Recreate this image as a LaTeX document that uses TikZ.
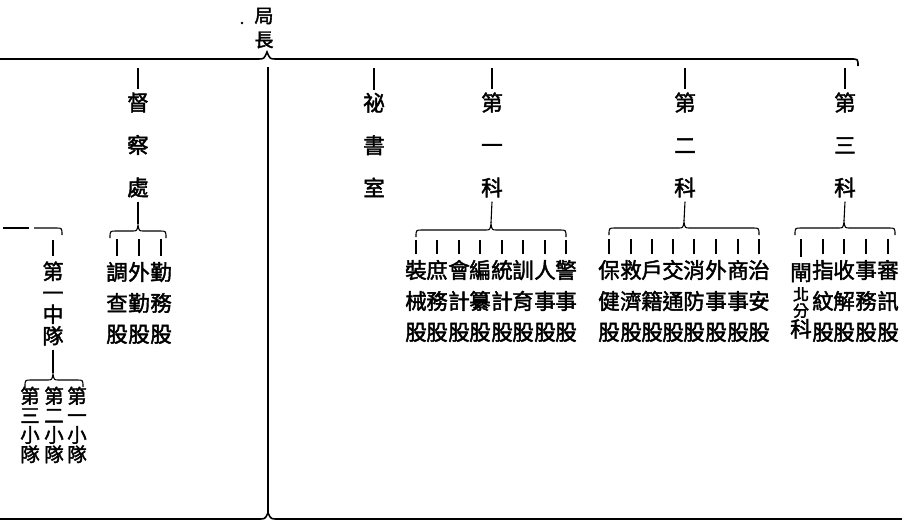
\documentclass[tikz,border=0pt]{standalone}
\usepackage{fontspec}
\newfontfamily\cjk[FakeBold=2]{Noto Sans CJK TC}
\tikzset{
  ln/.style={line width=1.1pt},
  mainln/.style={line width=1.6pt},
  headcol/.style={font=\cjk\fontsize{19}{24}\selectfont, align=center, inner sep=0pt},
  topcol/.style={font=\cjk\fontsize{21.5}{42.5}\selectfont, align=center, inner sep=0pt},
  subcol/.style={font=\cjk\fontsize{21.5}{31}\selectfont, align=center, inner sep=0pt},
  midcol/.style={font=\cjk\fontsize{21}{21.5}\selectfont, align=center, inner sep=0pt},
  smallcol/.style={font=\cjk\fontsize{19.5}{19.5}\selectfont, align=center, inner sep=0pt},
}
% x1, x2, peak x, y
\newcommand\orgbrace[4]{%
  \draw[ln] (#1,#4+7) .. controls (#1,#4) .. (#1+6,#4) -- (#3-6,#4)
    .. controls (#3-1,#4) .. (#3,#4-6) .. controls (#3+1,#4) .. (#3+6,#4)
    -- (#2-6,#4) .. controls (#2,#4) .. (#2,#4+7);}
\begin{document}
\begin{tikzpicture}[x=1pt,y=-1pt]
\fill[white] (0,0) rectangle (902,525);
\useasboundingbox (0,0) rectangle (902,525);

% head
\node[headcol] (hd) at (264,28) {局\\長};
\fill (242,23) circle (1.3pt);

% top line with peak
\coordinate (tl) at (0,59);
\coordinate (tr) at (858,66);
\draw[mainln] (tl) -- (258,59) .. controls (264,59) .. (267,52)
  .. controls (270,59) .. (276,59) -- (851,59) .. controls (858,59) .. (tr);

% main vertical and bottom line
\coordinate (vt) at (268,67);
\coordinate (vb) at (268,513);
\draw[mainln] (vt) -- (vb);
\coordinate (bl) at (0,519);
\coordinate (br) at (902,519);
\draw[mainln] (bl) -- (259,519) .. controls (265,519) .. (vb)
  .. controls (271,519) .. (277,519) -- (br);

% top-level columns
\node[topcol] (dc) at (138,145) {督\\察\\處};
\node[topcol] (ms) at (374,145) {祕\\書\\室};
\node[topcol] (k1) at (492,145) {第\\一\\科};
\node[topcol] (k2) at (685,145) {第\\二\\科};
\node[topcol] (k3) at (845,145) {第\\三\\科};
\foreach \n in {dc,ms,k1,k2,k3}{
  \draw[ln] ([yshift=-9pt]\n.north |- tl) -- ([yshift=3pt]\n.north);
}

% ---- 督察處 branch
\draw[ln] ([yshift=-4pt]dc.south) -- (138,224);
\orgbrace{110}{166}{138}{231}
\foreach \n/\x/\t in {dca/117/{調\\查\\股},dcb/139/{外\\勤\\股},dcc/161/{勤\\務\\股}}{
  \node[subcol] (\n) at (\x,303) {\t};
  \draw[ln] (\x,239) -- ([yshift=6pt]\n.north);
}

% ---- 第一中隊
\node[midcol] (zd) at (53,303.5) {第\\一\\中\\隊};
\coordinate (zl) at (3,228);
\draw[ln] (zl) -- (29,228);
\draw[ln] (34,228) -- (56,228) .. controls (62,228) .. (62,235);
\draw[ln] (53,240) -- ([yshift=5pt]zd.north);
\draw[ln] ([yshift=-4pt]zd.south) -- (53,373);
\orgbrace{25}{83}{53}{380}
\node[smallcol] (x3) at (30,425) {第\\三\\小\\隊};
\node[smallcol] (x2) at (54,425) {第\\二\\小\\隊};
\node[smallcol] (x1) at (77,425) {第\\一\\小\\隊};

% ---- 第一科 branch
\draw[ln] ([yshift=-4pt]k1.south) -- (491,223);
\orgbrace{416}{566}{491}{230}
\foreach \n/\x/\t in {
  k1a/416/{裝\\械\\股},k1b/437/{庶\\務\\股},k1c/459/{會\\計\\股},k1d/480/{編\\纂\\股},
  k1e/502/{統\\計\\股},k1f/523/{訓\\育\\股},k1g/545/{人\\事\\股},k1h/566/{警\\事\\股}}{
  \node[subcol] (\n) at (\x,301) {\t};
  \draw[ln] (\x,240) -- ([yshift=6pt]\n.north);
}

% ---- 第二科 branch
\draw[ln] ([yshift=-4pt]k2.south) -- (684,221);
\orgbrace{609}{759}{684}{228}
\foreach \n/\x/\t in {
  k2a/609/{保\\健\\股},k2b/631/{救\\濟\\股},k2c/652/{戶\\籍\\股},k2d/673/{交\\通\\股},
  k2e/694/{消\\防\\股},k2f/716/{外\\事\\股},k2g/738/{商\\事\\股},k2h/759/{治\\安\\股}}{
  \node[subcol] (\n) at (\x,301) {\t};
  \draw[ln] (\x,239) -- ([yshift=6pt]\n.north);
}

% ---- 第三科 branch
\draw[ln] ([yshift=-4pt]k3.south) -- (844,221);
\orgbrace{795}{895}{844}{228}
\node[inner sep=0pt,font=\cjk] (k3a) at (801,301) {\vbox{\offinterlineskip
  \hbox to 21pt{\hss\fontsize{21.5}{21.5}\selectfont 閘\hss}\kern5pt
  \hbox to 21pt{\hss\fontsize{16}{16}\selectfont 北\hss}\kern2pt
  \hbox to 21pt{\hss\fontsize{16}{16}\selectfont 分\hss}\kern1pt
  \hbox to 21pt{\hss\fontsize{21.5}{21.5}\selectfont 科\hss}}};
\draw[ln] (801,239) -- ([yshift=6pt]k3a.north);
\foreach \n/\x/\t in {k3b/823/{指\\紋\\股},k3c/844/{收\\解\\股},k3d/866/{事\\務\\股},k3e/888/{審\\訊\\股}}{
  \node[subcol] (\n) at (\x,301) {\t};
  \draw[ln] (\x,239) -- ([yshift=6pt]\n.north);
}
\end{tikzpicture}
\end{document}
